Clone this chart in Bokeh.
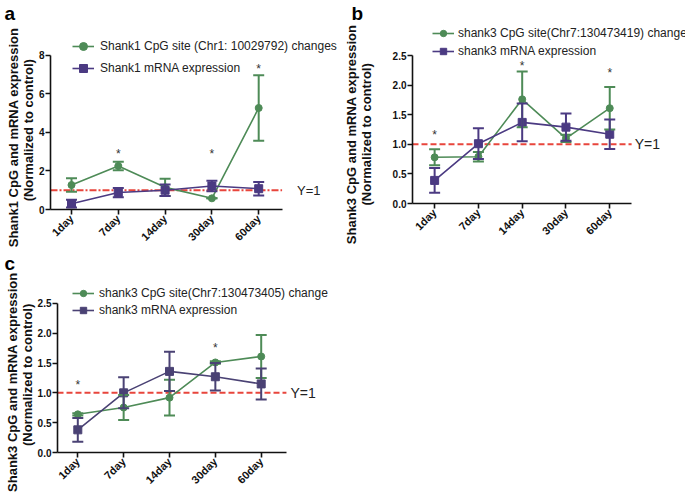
from bokeh.plotting import figure
from bokeh.models import (Range1d, FixedTicker, ColumnDataSource, Whisker, TeeHead,
                          Label, Legend, LegendItem)
from bokeh.layouts import column, row
from bokeh.embed import file_html
from bokeh.resources import INLINE
from bokeh.core.properties import value

# ---------------- data ----------------
days = ["1day", "7day", "14day", "30day", "60day"]

a_cpg = [1.27, 2.26, 1.15, 0.58, 5.27]
a_cpg_err = [0.35, 0.22, 0.45, 0.0, 1.70]
a_mrna = [0.30, 0.88, 1.00, 1.22, 1.08]
a_mrna_err = [0.20, 0.24, 0.30, 0.27, 0.35]
a_star_days = ["7day", "30day", "60day"]
a_star_y = [2.87, 2.87, 7.3]

b_cpg = [0.78, 0.79, 1.76, 1.10, 1.61]
b_cpg_err = [0.135, 0.08, 0.47, 0.06, 0.36]
b_mrna = [0.39, 1.01, 1.37, 1.29, 1.17]
b_mrna_err = [0.21, 0.26, 0.32, 0.23, 0.25]
b_star_days = ["1day", "14day", "60day"]
b_star_y = [1.16, 2.33, 2.20]

c_cpg = [0.64, 0.755, 0.92, 1.51, 1.61]
c_cpg_err = [0.02, 0.21, 0.30, 0.02, 0.36]
c_mrna = [0.38, 1.00, 1.36, 1.27, 1.15]
c_mrna_err = [0.20, 0.26, 0.33, 0.23, 0.26]
c_star_days = ["1day", "30day"]
c_star_y = [1.13, 1.76]

a_yticks = [0, 2, 4, 6, 8]
bc_yticks = [0.0, 0.5, 1.0, 1.5, 2.0, 2.5]

a_labels = ["Shank1 CpG site (Chr1: 10029792) changes", "Shank1 mRNA expression"]
b_labels = ["shank3 CpG site(Chr7:130473419) change", "shank3 mRNA expression"]
c_labels = ["shank3 CpG site(Chr7:130473405) change", "shank3 mRNA expression"]
a_ylab = ["Shank1 CpG and mRNA expression", "(Normalized to control)"]
bc_ylab = ["Shank3 CpG and mRNA expression", "(Normalized to control)"]

GREEN = "#4E8B57"
PURPLE = "#4B3A82"
PURPLE_C = "#4A4274"
RED = "#E8453C"
FONT = "Liberation Sans"
NBSP_W = 3.61    # width of a no-break space at 13px bold
LAB_SHIFT = -6   # measured offset of the axis-title centre from the frame centre


def panel(width, height, frame_left, frame_top, ref_y, x_px, x_axis_end, yticks, yfmt,
          cpg, cpg_err, mrna, mrna_err, star_days, star_y, labels, leg, ylab, ylab_c,
          lab_standoff, letter, letter_x, y1_off, y1_size, purple, dash):
    FT = frame_top
    (px0, v0), (px1, v1) = ref_y          # pixel rows of two y values
    ypp = (v1 - v0) / (px0 - px1)         # data per pixel
    y_start = v0
    y_end = v0 + (px0 - FT) * ypp
    (cx0, step) = x_px                    # pixel of first category and spacing
    x_start = -(cx0 - frame_left) / step
    x_end = x_start + (width - frame_left) / step
    bottom = height - px0

    p = figure(width=width, height=height, x_range=Range1d(x_start, x_end),
               y_range=Range1d(y_start, y_end),
               output_backend="svg", toolbar_location=None,
               min_border_left=frame_left, min_border_right=0,
               min_border_top=FT, min_border_bottom=bottom)
    p.outline_line_color = None
    p.grid.visible = False
    xs = list(range(len(days)))

    # axes
    p.xaxis.ticker = FixedTicker(ticks=xs)
    p.xaxis.major_label_overrides = {i: d for i, d in enumerate(days)}
    p.xaxis.major_label_orientation = 0.785
    p.xaxis.bounds = (x_start, x_axis_end)
    p.yaxis.ticker = FixedTicker(ticks=yticks)
    p.yaxis.major_label_overrides = {t: (yfmt % t) for t in yticks}
    p.yaxis.bounds = (yticks[0], yticks[-1])
    for ax in (p.xaxis[0], p.yaxis[0]):
        ax.axis_line_width = 1.6
        ax.axis_line_color = "#111111"
        ax.major_tick_line_width = 1.6
        ax.major_tick_line_color = "#111111"
        ax.major_tick_out = 5
        ax.major_tick_in = 0
        ax.minor_tick_line_color = None
        ax.major_label_text_font = FONT
        ax.major_label_text_font_style = "bold"
        ax.major_label_text_color = "#111111"
    p.xaxis.major_label_standoff = 2
    p.yaxis.major_label_standoff = 1
    p.xaxis.major_label_text_font_size = "11px"
    p.yaxis.major_label_text_font_size = "10px"

    # y-axis title: two lines; no-break spaces push each line to its reference centre
    bc = (FT + px0) / 2.0 + LAB_SHIFT
    lines = [t + "\u00a0" * max(0, int(round(2 * (c - bc) / NBSP_W)))
             for t, c in zip(ylab, ylab_c)]
    p.yaxis.axis_label = "\n".join(lines)
    p.yaxis.axis_label_text_font = FONT
    p.yaxis.axis_label_text_font_size = "13px"
    p.yaxis.axis_label_text_font_style = "bold"
    p.yaxis.axis_label_text_color = "#111111"
    p.yaxis.axis_label_text_line_height = 1.0
    p.yaxis.axis_label_standoff = lab_standoff

    # reference line y = 1 along the x axis
    p.segment(x0=[x_start], y0=[1], x1=[x_axis_end], y1=[1], line_color=RED,
              line_dash=dash, line_width=2)

    src_g = ColumnDataSource(dict(x=xs, y=cpg,
                                  lo=[v - e for v, e in zip(cpg, cpg_err)],
                                  hi=[v + e for v, e in zip(cpg, cpg_err)]))
    src_p = ColumnDataSource(dict(x=xs, y=mrna,
                                  lo=[v - e for v, e in zip(mrna, mrna_err)],
                                  hi=[v + e for v, e in zip(mrna, mrna_err)]))

    for src, col in ((src_g, GREEN), (src_p, purple)):
        w = Whisker(source=src, base="x", upper="hi", lower="lo",
                    line_color=col, line_width=2, level="glyph",
                    upper_head=TeeHead(size=11, line_color=col, line_width=2),
                    lower_head=TeeHead(size=11, line_color=col, line_width=2))
        p.add_layout(w)

    lg = p.line("x", "y", source=src_g, line_color=GREEN, line_width=1.6)
    sg = p.scatter("x", "y", source=src_g, marker="circle", size=7,
                   fill_color=GREEN, line_color=GREEN)
    lp = p.line("x", "y", source=src_p, line_color=purple, line_width=1.6)
    sp = p.scatter("x", "y", source=src_p, marker="square", size=8,
                   fill_color=purple, line_color=purple)

    # significance stars
    p.text(x=[days.index(d) for d in star_days], y=star_y, text=["*"] * len(star_days),
           text_font=value(FONT), text_font_size="12px", text_color="#333333",
           text_align="center", text_baseline="middle")

    # legend
    lx, ly, gh, sp_, standoff = leg
    legend = Legend(items=[LegendItem(label=labels[0], renderers=[lg, sg]),
                           LegendItem(label=labels[1], renderers=[lp, sp])],
                    location=(lx, ly), padding=0, margin=0, spacing=sp_,
                    glyph_width=22, glyph_height=gh, label_height=gh,
                    label_standoff=standoff,
                    label_text_font=FONT, label_text_font_size="12px",
                    label_text_color="#222222",
                    border_line_color=None, background_fill_alpha=0)
    p.add_layout(legend, "center")

    # panel letter (above the frame, not clipped)
    p.add_layout(Label(x=x_start, y=y_end, x_offset=letter_x - frame_left,
                       y_offset=FT - 2, text=letter,
                       text_align="left", text_baseline="top",
                       text_font=FONT, text_font_size="19px", text_font_style="bold",
                       text_color="#000000"), "above")

    # Y=1 label
    p.add_layout(Label(x=x_axis_end, y=1, x_offset=y1_off, text="Y=1",
                       text_align="left", text_baseline="middle",
                       text_font=FONT, text_font_size=y1_size, text_color="#222222"))
    return p


pa = panel(340, 250, 50, 36, ((210, 0.0), (55, 8.0)), (71.0, 46.8), 4.5, a_yticks, "%d",
           a_cpg, a_cpg_err, a_mrna, a_mrna_err, a_star_days, a_star_y, a_labels,
           (22, 131, 20, 2, 6), a_ylab, [131.5, 125], 0, "a", 4,
           15, "13px", PURPLE, "7 2 2 2")

pb = panel(345, 250, 65, 25, ((203, 0.0), (55, 2.5)), (87.7, 44.9), 4.5, bc_yticks, "%.1f",
           b_cpg, b_cpg_err, b_mrna, b_mrna_err, b_star_days, b_star_y, b_labels,
           (20, 144, 16, 2, 4), bc_ylab, [127.5, 127.5], 16, "b", 4,
           3, "14px", PURPLE, "6 3")

pc = panel(340, 243, 57, 36, ((203, 0.0), (53, 2.5)), (77.3, 45.85), 4.55, bc_yticks, "%.1f",
           c_cpg, c_cpg_err, c_mrna, c_mrna_err, c_star_days, c_star_y, c_labels,
           (15, 134, 16, 1, 5), bc_ylab, [126.5, 119.5], 0, "c", 4,
           4, "14px", PURPLE_C, "6 3")

layout = column(row(column(pa), column(pb)), column(pc))
open("out.html", "w").write(file_html(layout, INLINE))
